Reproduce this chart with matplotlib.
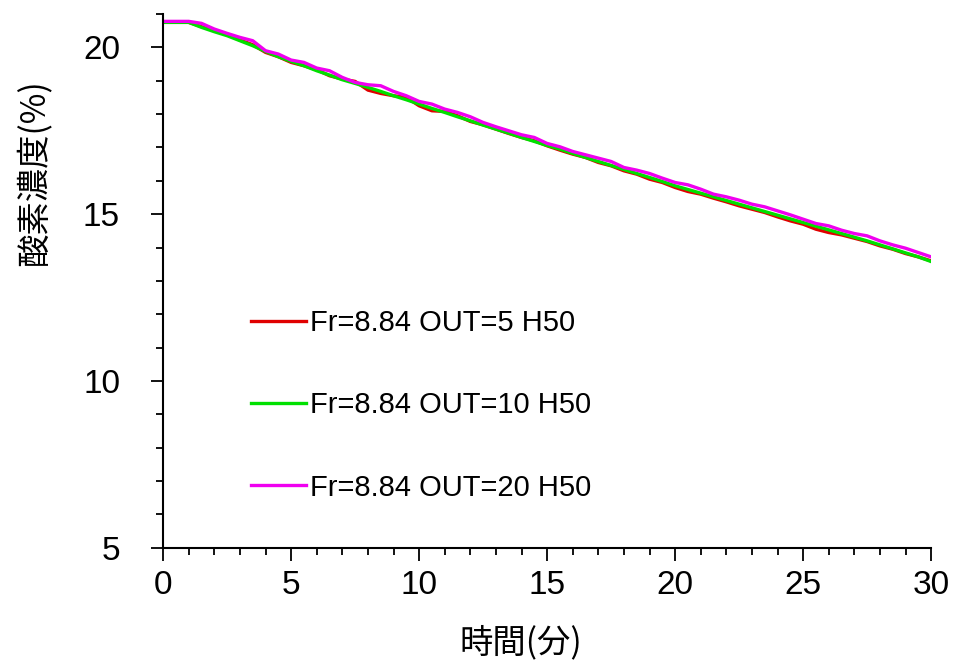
import matplotlib
matplotlib.use("Agg")
import matplotlib.pyplot as plt
from matplotlib.ticker import MultipleLocator

plt.rcParams['font.family'] = ['Liberation Sans', 'Noto Sans CJK JP', 'DejaVu Sans']

# time axis (minutes), sampled every 0.5 min
t = [i * 0.5 for i in range(61)]

# oxygen concentration (%)
red_out5 = [20.75, 20.75, 20.75, 20.62, 20.50, 20.38, 20.22, 20.08, 19.85, 19.72,
            19.55, 19.45, 19.33, 19.15, 19.05, 18.98, 18.72, 18.62, 18.55, 18.50,
            18.25, 18.10, 18.08, 17.95, 17.78, 17.68, 17.55, 17.42, 17.30, 17.20,
            17.05, 16.92, 16.80, 16.70, 16.55, 16.45, 16.30, 16.20, 16.05, 15.95,
            15.80, 15.68, 15.60, 15.48, 15.37, 15.25, 15.15, 15.05, 14.92, 14.80,
            14.70, 14.55, 14.45, 14.38, 14.28, 14.18, 14.05, 13.95, 13.82, 13.72,
            13.60]

green_out10 = [20.75, 20.75, 20.75, 20.60, 20.47, 20.35, 20.20, 20.05, 19.88, 19.72,
               19.58, 19.45, 19.30, 19.17, 19.03, 18.92, 18.80, 18.68, 18.55, 18.43,
               18.30, 18.17, 18.05, 17.92, 17.80, 17.67, 17.55, 17.43, 17.30, 17.18,
               17.06, 16.95, 16.82, 16.70, 16.58, 16.46, 16.34, 16.22, 16.10, 15.98,
               15.85, 15.74, 15.63, 15.52, 15.41, 15.30, 15.19, 15.08, 14.97, 14.86,
               14.75, 14.64, 14.53, 14.42, 14.31, 14.20, 14.08, 13.96, 13.84, 13.72,
               13.58]

magenta_out20 = [20.78, 20.78, 20.78, 20.72, 20.55, 20.42, 20.30, 20.20, 19.90, 19.80,
                 19.62, 19.55, 19.38, 19.30, 19.10, 18.95, 18.88, 18.85, 18.68, 18.55,
                 18.38, 18.30, 18.15, 18.05, 17.92, 17.75, 17.62, 17.50, 17.38, 17.30,
                 17.12, 17.02, 16.88, 16.78, 16.68, 16.58, 16.40, 16.32, 16.22, 16.08,
                 15.95, 15.88, 15.75, 15.60, 15.52, 15.42, 15.30, 15.22, 15.10, 14.98,
                 14.85, 14.72, 14.65, 14.52, 14.42, 14.35, 14.20, 14.08, 13.98, 13.85,
                 13.72]

labels = ["Fr=8.84 OUT=5 H50", "Fr=8.84 OUT=10 H50", "Fr=8.84 OUT=20 H50"]
colors = ["#e00000", "#00e000", "#f000f0"]

fig = plt.figure(figsize=(9.54, 6.68), dpi=100)
ax = fig.add_axes([0.171, 0.180, 0.805, 0.799])

ax.plot(t, red_out5, color=colors[0], lw=2.4, label=labels[0])
ax.plot(t, green_out10, color=colors[1], lw=2.4, label=labels[1])
ax.plot(t, magenta_out20, color=colors[2], lw=2.4, label=labels[2])

ax.set_xlim(0, 30)
ax.set_ylim(5, 21)

ax.xaxis.set_major_locator(MultipleLocator(5))
ax.xaxis.set_minor_locator(MultipleLocator(1))
ax.yaxis.set_major_locator(MultipleLocator(5))
ax.yaxis.set_minor_locator(MultipleLocator(1))

for side in ["top", "right"]:
    ax.spines[side].set_visible(False)
for side in ["left", "bottom"]:
    ax.spines[side].set_linewidth(1.5)

ax.tick_params(axis="both", which="major", direction="out", length=9, width=1.3, labelsize=24)
ax.tick_params(axis="both", which="minor", direction="out", length=5, width=1.3)
ax.tick_params(axis="y", which="major", pad=22)
ax.tick_params(axis="x", which="major", pad=7)

fig.text(34 / 954, 1 - 173 / 668, "酸素濃度(%)", rotation=90, ha="center", va="center",
         fontsize=24, family=["Noto Sans CJK JP", "DejaVu Sans"])
fig.text(521 / 954, 1 - 643 / 668, "時間(分)", ha="center", va="center",
         fontsize=24, family=["Noto Sans CJK JP", "DejaVu Sans"])

ax.legend(loc="upper left", bbox_to_anchor=(0.114, 0.447), frameon=False,
          fontsize=21, handlelength=1.9, handletextpad=0.15, labelspacing=1.86,
          borderaxespad=0, borderpad=0)

fig.savefig("out.png", dpi=100)
